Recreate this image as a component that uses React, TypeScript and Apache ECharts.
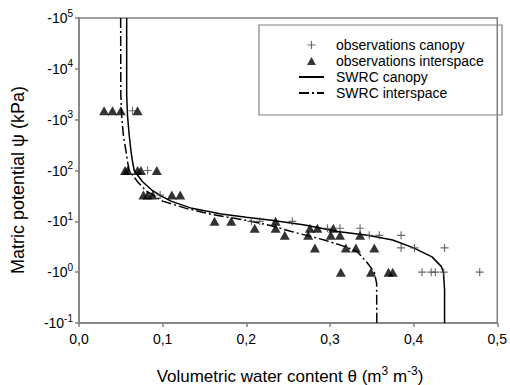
import React, { useEffect, useRef } from "react";
import * as echarts from "echarts";

// Observations (theta in m3/m3, psi magnitude in kPa)
const canopyObsTheta = [0.064, 0.082, 0.097, 0.206, 0.216, 0.255, 0.297, 0.312, 0.336, 0.347, 0.359, 0.385, 0.385, 0.401, 0.437, 0.41, 0.421, 0.426, 0.436, 0.479];
const canopyObsPsi = [1500, 100, 33, 10, 10, 10, 7.3, 7.3, 7.3, 5.3, 5.3, 5.3, 3, 3, 3, 1, 1, 1, 1, 1];

const interObsTheta = [
  0.03, 0.04, 0.05, 0.07,
  0.055, 0.058, 0.07, 0.074, 0.093,
  0.077, 0.082, 0.088, 0.111, 0.121,
  0.162, 0.182, 0.235,
  0.21, 0.235, 0.276, 0.285, 0.304,
  0.246, 0.274, 0.301, 0.312, 0.336,
  0.282, 0.319, 0.331, 0.353,
  0.313, 0.349, 0.37, 0.375,
];
const interObsPsi = [
  1500, 1500, 1500, 1500,
  100, 100, 100, 100, 100,
  33, 33, 33, 33, 33,
  10, 10, 10,
  7.3, 7.3, 7.3, 7.3, 7.3,
  5.3, 5.3, 5.3, 5.3, 5.3,
  3, 3, 3, 3,
  1, 1, 1, 1,
];

// Fitted retention curves
const swrcCanopyTheta = [0.057, 0.057, 0.058, 0.06, 0.062, 0.064, 0.066, 0.076, 0.088, 0.096, 0.11, 0.135, 0.17, 0.2, 0.23, 0.27, 0.309, 0.345, 0.375, 0.4, 0.422, 0.433, 0.4356, 0.437, 0.437];
const swrcCanopyPsi = [100000, 3000, 1200, 500, 250, 150, 100, 60, 40, 33, 25, 18, 14, 12, 10.5, 8.5, 6.3, 5.3, 4.3, 3.0, 2.0, 1.3, 1.0, 0.45, 0.1];

const swrcInterTheta = [0.0498, 0.05, 0.051, 0.053, 0.056, 0.058, 0.06, 0.07, 0.08, 0.088, 0.1, 0.128, 0.16, 0.2, 0.23, 0.254, 0.293, 0.32, 0.333, 0.345, 0.353, 0.3558, 0.356];
const swrcInterPsi = [100000, 3000, 1200, 500, 250, 150, 100, 60, 40, 33, 25, 18, 13.5, 10.5, 8.2, 6.3, 4.3, 3.1, 2.5, 1.5, 1.0, 0.6, 0.1];

const seriesNames = ["observations canopy", "observations interspace", "SWRC canopy", "SWRC interspace"];

const PLUS = "path://M3,0H4V3H7V4H4V7H3V4H0V3H3Z";
const TRI = "path://M5,0L10,9L0,9Z";
const FONT = "Liberation Sans";
const AXIS_GRAY = "#808080";

const zip = (a: number[], b: number[]) => a.map((v, i) => [v, b[i]]);

export default function App() {
  const ref = useRef<HTMLDivElement>(null);
  useEffect(() => {
    const chart = echarts.init(ref.current!, null, { renderer: "svg" });
    chart.setOption({
      animation: false,
      backgroundColor: "#fff",
      grid: { left: 79, top: 18, right: 8, bottom: 62, show: true, borderColor: AXIS_GRAY, borderWidth: 1.5, backgroundColor: "transparent" },
      xAxis: {
        type: "value",
        min: 0,
        max: 0.5,
        interval: 0.1,
        splitLine: { show: false },
        axisLine: { lineStyle: { color: AXIS_GRAY, width: 1.5 } },
        axisTick: { lineStyle: { color: AXIS_GRAY, width: 1.5 }, length: 4 },
        axisLabel: {
          margin: 9,
          fontSize: 14,
          fontFamily: FONT,
          color: "#000",
          formatter: (v: number) => v.toFixed(1).replace(".", ","),
        },
      },
      yAxis: {
        type: "log",
        logBase: 10,
        min: 0.1,
        max: 100000,
        interval: 1,
        splitLine: { show: false },
        axisLine: { lineStyle: { color: AXIS_GRAY, width: 1.5 } },
        axisTick: { lineStyle: { color: AXIS_GRAY, width: 1.5 }, length: 4 },
        axisLabel: {
          margin: 6,
          color: "#000",
          formatter: (v: number) => `{a|-10}{b|${Math.round(Math.log10(v))}}`,
          rich: {
            a: { fontSize: 14, fontFamily: FONT, color: "#000", lineHeight: 20 },
            b: { fontSize: 10, fontFamily: FONT, color: "#000", lineHeight: 10, verticalAlign: "top" },
          },
        },
      },
      legend: {
        orient: "vertical",
        left: 293,
        top: 33,
        itemWidth: 25,
        itemHeight: 8,
        itemGap: 2,
        textStyle: { fontSize: 14, lineHeight: 14, fontFamily: FONT, color: "#000", padding: [0, 0, 0, 7] },
        data: [
          { name: seriesNames[0], icon: PLUS },
          { name: seriesNames[1], icon: TRI },
          { name: seriesNames[2], itemStyle: { opacity: 0 } },
          { name: seriesNames[3], itemStyle: { opacity: 0 } },
        ],
      },
      graphic: [
        {
          type: "rect",
          shape: { x: 259, y: 25, width: 243, height: 90 },
          style: { fill: "none", stroke: AXIS_GRAY, lineWidth: 1.2 },
          z: 3,
        },
        {
          type: "text",
          x: 290,
          y: 376,
          style: {
            text: "{n|Volumetric water content θ (m}{s|3}{n| m}{s|-3}{n|)}",
            align: "center",
            verticalAlign: "middle",
            rich: {
              n: { fontSize: 17, fontFamily: FONT, fill: "#000", lineHeight: 22 },
              s: { fontSize: 12, fontFamily: FONT, fill: "#000", lineHeight: 12, verticalAlign: "top" },
            },
          },
        },
        {
          type: "text",
          x: 18,
          y: 180,
          rotation: Math.PI / 2,
          style: {
            text: "Matric potential ψ (kPa)",
            fontSize: 18,
            fontFamily: FONT,
            fill: "#000",
            align: "center",
            verticalAlign: "middle",
          },
        },
      ],
      series: [
        {
          name: seriesNames[0],
          type: "scatter",
          symbol: PLUS,
          symbolSize: 8,
          itemStyle: { color: "#444" },
          data: zip(canopyObsTheta, canopyObsPsi),
          z: 3,
        },
        {
          name: seriesNames[1],
          type: "scatter",
          symbol: TRI,
          symbolSize: [10, 9],
          itemStyle: { color: "#000" },
          data: zip(interObsTheta, interObsPsi),
          z: 4,
        },
        {
          name: seriesNames[2],
          type: "line",
          symbol: "none",
          itemStyle: { color: "#000" },
          lineStyle: { color: "#000", width: 1.5, type: "solid" },
          data: zip(swrcCanopyTheta, swrcCanopyPsi),
          z: 2,
        },
        {
          name: seriesNames[3],
          type: "line",
          symbol: "none",
          itemStyle: { color: "#000" },
          lineStyle: { color: "#000", width: 1.5, type: [10, 3, 2, 3] },
          data: zip(swrcInterTheta, swrcInterPsi),
          z: 2,
        },
      ],
    });
    return () => chart.dispose();
  }, []);
  return <div ref={ref} style={{ position: "fixed", left: 0, top: 0, width: 510, height: 385 }} />;
}
